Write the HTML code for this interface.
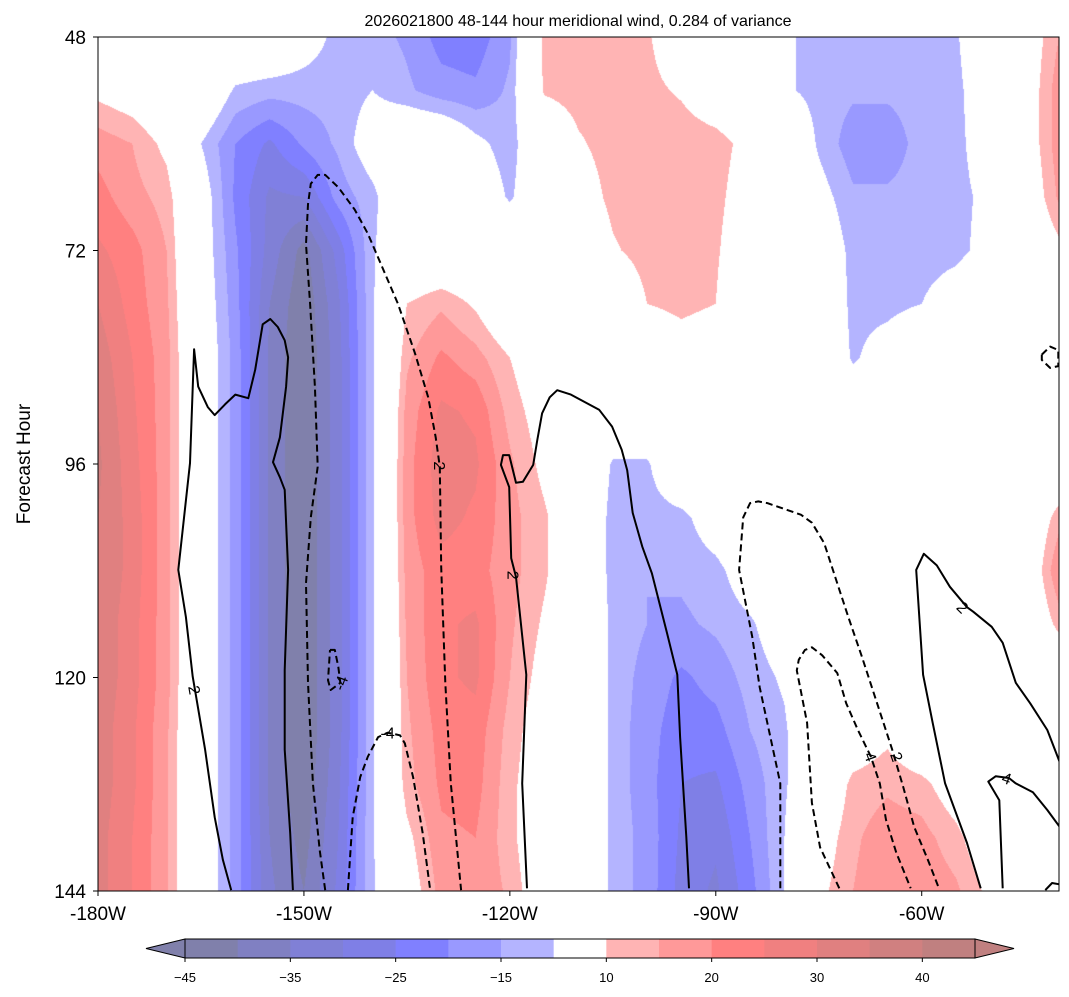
<!DOCTYPE html>
<html><head><meta charset="utf-8"><style>
body{margin:0;background:#fff;width:1069px;height:997px;overflow:hidden;font-family:"Liberation Sans",sans-serif}
#wrap{position:relative;width:1069px;height:997px}
canvas{position:absolute;left:98px;top:37px}
svg{position:absolute;left:0;top:0}
</style></head><body>
<div id="wrap">
<canvas id="cv" width="961" height="854"></canvas>
<svg id="sv" width="1069" height="997"></svg>
</div>
<script>
const lons=[-180,-175,-170,-165,-160,-155,-150,-145,-140,-135,-130,-125,-120,-115,-110,-105,-100,-95,-90,-85,-80,-75,-70,-65,-60,-55,-50,-45,-40];
const hours=[48,54,60,66,72,78,84,90,96,102,108,114,120,126,132,138,144];
const field=[
[0,0,0,0,0,0,-6,-12,-13,-16,-22,-23,-16,12,13,13,11,3,0,0,-9,-12,-13,-13,-12,-11,0,4,15],
[8,5,0,0,-11,-13,-13,-13,-10,-14,-18,-19,-14,11,13,13,12,9,3,0,-9,-12,-14,-14,-13,-12,-3,4,18],
[18,15,8,-10,-20,-26,-19,-14,-5,0,0,-8,-13,0,9,13,14,14,13,7,0,-11,-18,-18,-13,-12,-5,4,18],
[22,17,13,-5,-21,-31,-30,-18,-12,0,0,-3,-11,-2,5,12,14,14,12,5,0,-7,-14,-14,-13,-12,-8,2,16],
[26,22,15,-5,-19,-32,-42,-28,-11,0,0,0,0,0,0,9,13,14,11,3,0,-3,-12,-13,-13,-12,-7,0,8],
[30,23,16,-4,-18,-35,-44,-31,-11,10,14,9,0,0,0,0,10,12,10,0,0,0,-12,-12,-10,-5,0,0,0],
[33,25,17,-3,-17,-36,-45,-32,-11,14,21,17,10,3,0,0,0,5,3,0,0,0,-11,-6,0,0,0,0,0],
[35,26,17,-3,-17,-36,-45,-32,-11,17,26,24,13,6,0,0,0,0,0,0,0,0,-3,0,0,0,0,0,0],
[36,27,17,-3,-17,-36,-45,-32,-11,18,28,26,16,8,3,-11,-11,0,0,0,0,0,0,0,0,0,0,0,0],
[35,28,17,-3,-17,-36,-45,-32,-11,18,27,24,17,11,3,-13,-13,-12,-5,0,0,0,0,0,0,0,0,0,13],
[35,28,17,-3,-17,-36,-45,-32,-11,17,23,22,17,11,3,-13,-15,-14,-12,-5,0,0,0,0,0,0,0,0,20],
[34,27,17,-3,-17,-36,-45,-32,-11,16,24,26,16,9,3,-12,-15,-16,-14,-11,-5,0,0,0,0,0,0,0,12],
[34,27,17,-3,-17,-36,-45,-32,-11,15,24,26,15,7,3,-12,-17,-21,-18,-13,-9,0,0,0,0,0,0,0,0],
[33,26,16,-3,-17,-36,-45,-32,-11,14,22,23,13,5,3,-12,-18,-23,-22,-15,-11,0,3,8,0,0,0,0,0],
[33,26,16,-3,-17,-36,-44,-31,-11,13,21,22,12,3,3,-12,-18,-25,-26,-18,-11,0,12,14,12,5,0,0,0],
[32,25,16,-3,-17,-35,-42,-30,-11,8,19,20,12,2,3,-12,-17,-26,-29,-20,-10,5,14,18,17,12,3,0,0],
[32,25,16,-3,-17,-34,-40,-29,-11,5,17,19,14,3,3,-12,-17,-27,-31,-22,-10,8,15,19,19,16,8,0,0]];
const levels=[-45,-40,-35,-30,-25,-20,-15,-10,10,15,20,25,30,35,40,45];
const levelColors=["#8080ab","#8080c2","#8080d6","#7f7fe6","#8080ff","#9999ff","#b4b4ff","#ffffff","#ffb4b4","#ff9999","#ff8080","#f08080","#e08080","#d08080","#c08080"];
const cbTicks=[-45,-35,-25,-15,10,20,30,40];
const xTicks=[-180,-150,-120,-90,-60];
const yTicks=[48,72,96,120,144];
const lineA=[[-160.6,143.9],[-161.8,140.5],[-163.0,135.7],[-164.4,128.1],[-165.7,122.2],[-166.2,119.9],[-167.2,113.2],[-168.3,107.9],[-166.6,95.9],[-166.0,83.1],[-165.4,87.3],[-164.0,89.6],[-163.0,90.5],[-161.5,89.3],[-160.0,88.2],[-158.1,88.6],[-157.1,85.4],[-156.0,80.3],[-154.9,79.7],[-153.8,80.6],[-152.8,82.1],[-152.3,84.0],[-152.6,87.3],[-153.5,93.0],[-154.5,95.8],[-153.5,97.5],[-152.8,98.9],[-152.3,107.9],[-152.8,119.2],[-152.8,128.1],[-152.0,137.5],[-151.6,143.9]];
const lineB=[[-146.9,143.9],[-147.7,139.4],[-148.7,131.9],[-149.4,120.6],[-149.7,109.4],[-149.0,102.0],[-148.0,96.3],[-148.4,87.3],[-149.1,78.0],[-149.7,71.3],[-149.4,66.8],[-149.0,64.5],[-148.0,63.5],[-146.9,63.5],[-145.0,64.9],[-142.6,67.4],[-140.7,70.1],[-138.8,73.5],[-136.3,78.0],[-133.8,83.6],[-131.9,88.5],[-130.8,93.0],[-130.2,96.3],[-130.0,107.6],[-129.4,120.6],[-128.6,131.9],[-127.1,143.9]];
const lineC=[[-146.2,116.9],[-145.5,116.9],[-145.0,118.8],[-144.7,120.6],[-146.1,121.4],[-146.5,120.3],[-146.2,116.9]];
const lineD=[[-143.6,143.9],[-142.9,135.7],[-141.8,131.2],[-140.7,128.9],[-139.2,126.7],[-137.8,126.2],[-136.0,126.5],[-135.3,127.4],[-134.1,131.2],[-132.7,137.5],[-131.6,143.9]];
const lineE=[[-117.5,143.7],[-118.2,131.9],[-117.6,119.7],[-119.1,108.7],[-119.8,106.6],[-120.1,98.6],[-121.3,96.1],[-121.0,95.0],[-120.1,95.0],[-119.1,98.1],[-118.1,98.0],[-116.6,96.1],[-116.0,93.3],[-115.3,90.3],[-114.2,88.5],[-113.1,87.7],[-111.1,88.2],[-107.0,89.9],[-105.1,91.8],[-103.7,94.4],[-102.9,96.7],[-102.1,101.5],[-100.7,105.3],[-99.3,108.3],[-97.1,115.0],[-95.6,119.7],[-95.2,126.7],[-94.3,137.9],[-93.9,143.7]];
const lineF=[[-80.6,143.7],[-80.6,131.9],[-83.6,121.1],[-84.7,115.4],[-86.6,107.9],[-86.0,102.0],[-85.0,100.4],[-83.8,100.2],[-82.5,100.4],[-77.6,101.7],[-76.0,102.6],[-74.2,104.9],[-72.6,108.7],[-70.7,113.2],[-68.7,117.7],[-66.5,122.9],[-64.3,128.1],[-62.7,132.3],[-61.1,136.8],[-59.1,140.5],[-57.5,143.7]];
const lineG=[[-72.0,143.7],[-74.8,139.1],[-76.0,134.1],[-76.7,125.1],[-78.2,119.2],[-77.9,118.0],[-77.0,116.9],[-76.0,116.6],[-74.5,117.5],[-72.3,119.5],[-71.0,122.9],[-69.3,125.9],[-67.4,128.9],[-66.1,131.9],[-65.2,136.0],[-63.7,139.7],[-61.6,143.7]];
const lineH=[[-51.4,143.7],[-53.4,138.6],[-56.6,131.9],[-58.4,125.1],[-59.8,119.7],[-60.8,107.9],[-59.7,106.1],[-57.8,107.4],[-55.9,109.8],[-53.4,112.1],[-52.5,112.6],[-49.8,114.3],[-48.2,116.1],[-46.3,120.6],[-44.2,122.9],[-41.7,125.9],[-39.6,130.1]];
const lineI=[[-48.2,143.7],[-48.7,133.8],[-50.3,131.7],[-49.2,131.1],[-47.3,131.3],[-46.3,131.9],[-43.8,132.9],[-41.7,134.9],[-39.6,137.1]];
const lineJ=[[-42.0,143.9],[-41.0,143.1],[-39.6,143.3]];
const lineK=[[-42.5,83.7],[-41.3,82.8],[-40.1,83.2],[-40.1,85.0],[-41.3,85.2],[-42.5,84.3],[-42.5,83.7]];
const contourLabels=[["2",-165.9,121.4,80],["-4",-144.7,120.6,-70],["-4",-137.8,126.2,0],["2",-130.2,96.2,90],["2",-119.5,108.5,90],["2",-54.0,112.1,45],["4",-67.4,128.9,70],["2",-63.6,128.9,70],["4",-47.6,131.3,20]];

const PX0=98,PX1=1059,PY0=37,PY1=891,LON0=-180,LON1=-40,H0=48,H1=144;
function xs(lon){return PX0+(lon-LON0)/(LON1-LON0)*(PX1-PX0);}
function ys(h){return PY0+(h-H0)/(H1-H0)*(PY1-PY0);}
function hex(c){return [parseInt(c.slice(1,3),16),parseInt(c.slice(3,5),16),parseInt(c.slice(5,7),16)];}
const rgb=levelColors.map(hex);
function colorFor(v){
  if(v<levels[0])return rgb[0];
  for(let i=0;i<levels.length-1;i++){if(v<levels[i+1])return rgb[i];}
  return rgb[rgb.length-1];
}
function sample(lon,h){
  let fi=(lon-lons[0])/(lons[1]-lons[0]);let fj=(h-hours[0])/(hours[1]-hours[0]);
  let i=Math.min(Math.max(Math.floor(fi),0),lons.length-2);let j=Math.min(Math.max(Math.floor(fj),0),hours.length-2);
  let a=fi-i,b=fj-j;
  return field[j][i]*(1-a)*(1-b)+field[j][i+1]*a*(1-b)+field[j+1][i]*(1-a)*b+field[j+1][i+1]*a*b;
}
const cv=document.getElementById('cv');const ctx=cv.getContext('2d');
const W=cv.width,H=cv.height;const img=ctx.createImageData(W,H);
for(let py=0;py<H;py++){const h=H0+(py+0.5)/H*(H1-H0);
  for(let px=0;px<W;px++){const lon=LON0+(px+0.5)/W*(LON1-LON0);
    const c=colorFor(sample(lon,h));const k=(py*W+px)*4;
    img.data[k]=c[0];img.data[k+1]=c[1];img.data[k+2]=c[2];img.data[k+3]=255;}}
ctx.putImageData(img,0,0);

const NS='http://www.w3.org/2000/svg';const sv=document.getElementById('sv');
function mk(tag,attrs,parent){const e=document.createElementNS(NS,tag);for(const k in attrs)e.setAttribute(k,attrs[k]);(parent||sv).appendChild(e);return e;}
const clip=mk('clipPath',{id:'pc'});mk('rect',{x:PX0,y:PY0,width:PX1-PX0,height:PY1-PY0},clip);
const lg=mk('g',{'clip-path':'url(#pc)'});


const lineSets=[[lineA,false,'contour-2-west'],[lineB,true,'contour-neg2-arch'],[lineC,true,'contour-neg4-small'],[lineD,true,'contour-neg4-arch'],[lineE,false,'contour-2-central'],[lineF,true,'contour-neg2-east'],[lineG,true,'contour-neg4-east'],[lineH,false,'contour-2-east'],[lineI,false,'contour-4-east'],[lineJ,false,'contour-corner'],[lineK,true,'contour-small-loop']];
for(const [pts,dash,name] of lineSets){
  const p=mk('polyline',{points:pts.map(q=>xs(q[0]).toFixed(1)+','+ys(q[1]).toFixed(1)).join(' '),fill:'none',stroke:'#000','stroke-width':2,'stroke-linejoin':'round'},lg);
  if(dash)p.setAttribute('stroke-dasharray','7,4');
  
  
}
for(const [t,lon,h,rot] of contourLabels){
  const x=xs(lon),y=ys(h);
  const tx=mk('text',{x:x,y:y+6,'font-size':16,'text-anchor':'middle',transform:`rotate(${rot} ${x} ${y})`,fill:'#000'},lg);
  tx.textContent=t;
  
  
}
const frame=mk('rect',{x:PX0,y:PY0,width:PX1-PX0,height:PY1-PY0,fill:'none',stroke:'#000','stroke-width':1});


for(const t of xTicks){const x=xs(t);
  const tk=mk('line',{x1:x,x2:x,y1:PY1,y2:PY1+5,stroke:'#000'});
  
  
  const tl=mk('text',{x:x,y:920,'font-size':19,'text-anchor':'middle'});tl.textContent=t+'W';
  
  }
for(const t of yTicks){const y=ys(t);
  const tk=mk('line',{x1:PX0-5,x2:PX0,y1:y,y2:y,stroke:'#000'});
  
  
  const tl=mk('text',{x:86,y:y+7,'font-size':19,'text-anchor':'end'});tl.textContent=t;
  
  }
const yt=mk('text',{x:30,y:464,'font-size':19,'text-anchor':'middle',transform:'rotate(-90 30 464)'});yt.textContent='Forecast Hour';


const tt=mk('text',{x:578,y:26,'font-size':16,'text-anchor':'middle'});tt.textContent='2026021800 48-144 hour meridional wind, 0.284 of variance';


const CB0=185,CB1=975,CBY=939,CBH=19;
const cb=mk('g',{});


function cbx(i){return CB0+i*(CB1-CB0)/(levels.length-1);}
for(let i=0;i<levelColors.length;i++){
  const r=mk('rect',{x:cbx(i),y:CBY,width:cbx(i+1)-cbx(i)+0.5,height:CBH,fill:levelColors[i]},cb);
  
  }
const tl1=mk('polygon',{points:`${CB0},${CBY} 146,${CBY+CBH/2} ${CB0},${CBY+CBH}`,fill:levelColors[0],stroke:'#000'},cb);


const tr1=mk('polygon',{points:`${CB1},${CBY} 1014,${CBY+CBH/2} ${CB1},${CBY+CBH}`,fill:levelColors[levelColors.length-1],stroke:'#000'},cb);


mk('rect',{x:CB0,y:CBY,width:CB1-CB0,height:CBH,fill:'none',stroke:'#000'},cb);
for(const t of cbTicks){const i=levels.indexOf(t);const x=cbx(i);
  mk('line',{x1:x,x2:x,y1:CBY+CBH,y2:CBY+CBH+4,stroke:'#000'},cb);
  const l=mk('text',{x:x,y:982,'font-size':13,'text-anchor':'middle'},cb);l.textContent=(t<0?'\u2212'+(-t):t);
  
  }
</script>
</body></html>
